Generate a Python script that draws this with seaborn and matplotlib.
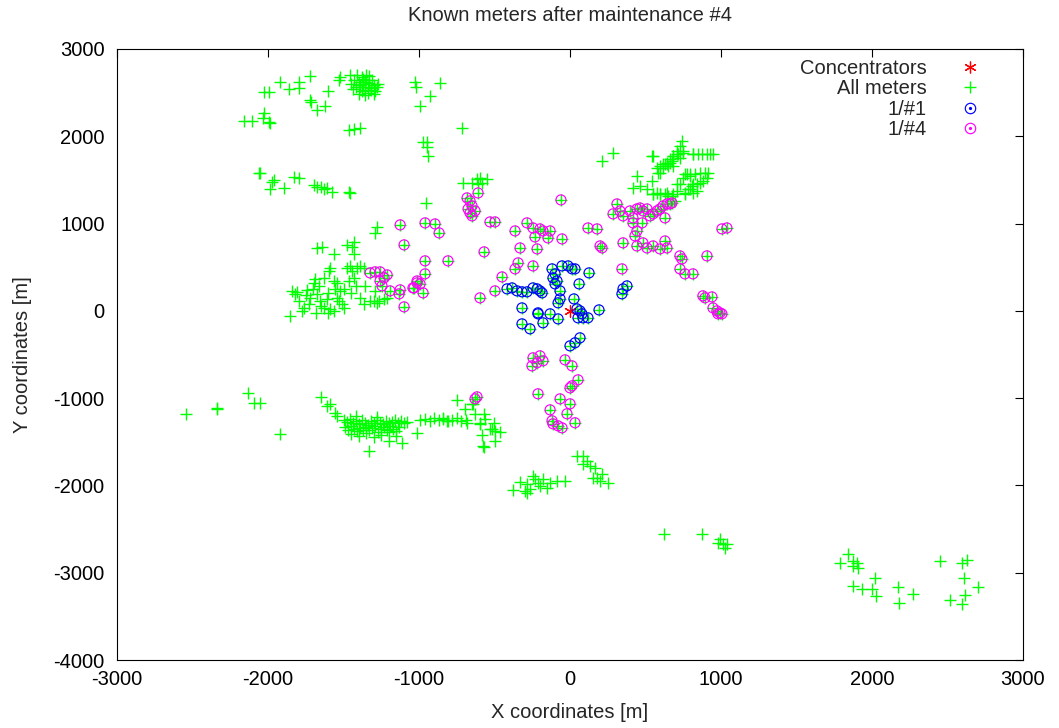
import matplotlib
matplotlib.use("Agg")
import matplotlib.pyplot as plt
from matplotlib.lines import Line2D
import seaborn as sns

# --- concentrator ---
conc_x = [0]
conc_y = [0]

# --- meters not reached (green only) ---
other_x = [
    # top left scatter
    -1920, -1794, -1721, -1860, -1794, -2026, -1993, -1602, -1721, -1715, -1675, -1622,
    -2158, -2105, -2026, -2032, -1993, -1986, -1523, -1530, -1456, -1463, -1430, -1390,
    # top dense cluster
    -1450, -1430, -1410, -1400, -1390, -1380, -1370, -1360, -1350, -1340, -1330, -1320,
    -1300, -1290, -1280, -1270, -1420, -1400, -1380, -1360, -1340, -1320, -1300, -1440,
    -1370, -1350, -1330, -1310, -1390, -1360,
    # top middle
    -1026, -1020, -861, -927, -993, -715, -973, -947, -947, -940,
    # row near 1500
    -2059, -2052, -1960, -1973, -1986, -1893, -1827, -1794, -1695, -1675, -1648, -1628,
    -1609, -1576, -1463, -1456,
    # above left cluster
    -1278, -1291, -1675, -1642, -1562, -1476, -1430, -1443, -1430,
    # left cluster
    -1840, -1807, -1820, -1853, -1794, -1774, -1761, -1728, -1721, -1741, -1695, -1688,
    -1662, -1675, -1655, -1628, -1609, -1589, -1562, -1628, -1595, -1589, -1562, -1543,
    -1523, -1530, -1496, -1509, -1476, -1456, -1443, -1430, -1410, -1390, -1364, -1463,
    -1556, -1357, -1390, -1364, -1324, -1298, -1278, -1265, -1231, -1291, -1211,
    -1700, -1650, -1600, -1540, -1500, -1450, -1420, -1680, -1750, -1600,
    # centre top
    -953, -708, -649, -616, -596, -583, -550, -609, 212, 285,
    550, 682, 708, 748, 814,
    443, 543, 596, 642, 616, 662, 682, 728,
    417, 463, 510, 550, 596, 642, 682, 708, 748, 774, 794, 814, 794, 841, 761,
    741, 728, 708, 682, 662, 642, 616, 596, 576, 543, 748, 715, 675, 649, 583, 629,
    814, 847, 874, 907, 927, 947,
    761, 794, 827, 861, 894, 914, 907, 880, 861, 841, 808, 781, 761, 728, 708, 814,
    550, 576, 596, 629, 649, 675, 695,
    # bottom left
    -2542, -2337, -2337, -2132, -2092, -2052, -1920, -1648, -1609, -1589, -1556, -1543,
    # bottom dense cluster
    -1500, -1480, -1460, -1440, -1420, -1400, -1380, -1360, -1340, -1320, -1300, -1280,
    -1260, -1240, -1220, -1200, -1180, -1160, -1140, -1120, -1100, -1080, -1490, -1470,
    -1450, -1430, -1410, -1390, -1370, -1350, -1330, -1310, -1290, -1270, -1250, -1230,
    -1210, -1190, -1170, -1150, -1130, -1450, -1400, -1350, -1300, -1250, -1200, -1150,
    -1420, -1280, -1331, -1198, -1112, -1013,
    # band towards the centre
    -993, -960, -930, -900, -870, -840, -810, -780, -750, -720, -690, -748,
    -695, -649, -629, -596, -570, -563, -583, -570, -503, -516, -497, -464,
    -497, -530, -576, -642, -596, -682, -814, -841,
    # bottom centre
    46, 86, 113, 86, 132, 166, 179, 152, 212, 199, 252,
    -377, -331, -285, -298, -285, -265, -245, -232, -212, -199, -179, -152, -132, -86, -33,
    # bottom right
    622, 874, 993, 980, 1013, 1039, 1026,
    1840, 1787, 1873, 1900, 1873, 1907, 2019, 1873, 1933, 1999, 2026, 2171, 2178, 2271,
    2449, 2595, 2628, 2608, 2701, 2615, 2595, 2516,
]
other_y = [
    2622, 2622, 2690, 2542, 2553, 2507, 2507, 2519, 2416, 2393, 2301, 2347,
    2175, 2175, 2267, 2210, 2164, 2153, 2679, 2645, 2702, 2072, 2084, 2095,
    2600, 2650, 2700, 2620, 2560, 2680, 2600, 2530, 2640, 2570, 2610, 2550,
    2590, 2520, 2560, 2600, 2560, 2480, 2520, 2470, 2500, 2530, 2480, 2540,
    2660, 2700, 2690, 2640, 2590, 2620,
    2622, 2565, 2610, 2462, 2347, 2095, 1935, 1935, 1878, 1775,
    1580, 1580, 1500, 1477, 1397, 1408, 1534, 1523, 1443, 1420, 1420, 1397,
    1408, 1363, 1363, 1351,
    962, 893, 721, 733, 653, 756, 790, 733, 653,
    229, 218, 195, -57, 115, 0, 34, 80, 149, 241, 321, 366,
    286, 195, 115, 34, 137, 23, 0, 378, 458, 492, 343, 321,
    229, 115, 34, 80, 492, 515, 458, 378, 492, 515, 492, 343,
    252, 286, 149, 80, 115, 115, 92, 115, 137, 229, 149,
    250, 60, 200, 150, 250, 200, 280, -20, 180, -30,
    1237, 1466, 1466, 1511, 1523, 1466, 1511, 1454, 1718, 1809,
    1775, 1775, 1798, 1809, 1798,
    1546, 1489, 1580, 1683, 1637, 1695, 1660, 1752,
    1408, 1431, 1397, 1340, 1340, 1351, 1340, 1454, 1523, 1569, 1546, 1454, 1397, 1374, 1340,
    1946, 1889, 1832, 1775, 1740, 1695, 1683, 1660, 1637, 1775, 1832, 1798, 1718, 1660, 1580, 1683,
    1798, 1798, 1798, 1798, 1798, 1798,
    1569, 1569, 1569, 1580, 1580, 1580, 1523, 1489, 1466, 1454, 1431, 1397, 1351, 1454, 1374, 1351,
    1340, 1351, 1340, 1340, 1317, 1317, 1260,
    -1179, -1122, -1110, -939, -1053, -1053, -1408, -985, -1088, -1065, -1168, -1202,
    -1250, -1270, -1240, -1290, -1260, -1300, -1250, -1280, -1310, -1260, -1290, -1250,
    -1280, -1300, -1260, -1290, -1270, -1250, -1280, -1260, -1280, -1270, -1330, -1360,
    -1320, -1350, -1380, -1340, -1370, -1330, -1360, -1340, -1320, -1390, -1350, -1330,
    -1370, -1320, -1350, -1380, -1330, -1410, -1430, -1400, -1440, -1420, -1390, -1430,
    -1210, -1220, -1603, -1488, -1511, -1397,
    -1250, -1240, -1260, -1230, -1250, -1240, -1260, -1250, -1230, -1260, -1250, -1019,
    -1122, -1065, -1179, -1282, -1179, -1237, -1420, -1557, -1282, -1351, -1374, -1385,
    -1488, -1351, -1546, -1065, -1294, -1282, -1259, -1225,
    -1660, -1660, -1718, -1752, -1775, -1798, -1912, -1912, -1866, -1947, -1969,
    -2050, -1958, -1981, -2061, -2084, -2038, -1889, -1924, -1969, -2004, -1924, -2027,
    -1969, -1947, -1947,
    -2553, -2553, -2611, -2656, -2668, -2668, -2714,
    -2782, -2885, -2862, -2885, -2920, -2943, -3057, -3149, -3183, -3183, -3263, -3160,
    -3343, -3240, -2862, -2885, -2851, -3057, -3160, -3252, -3355, -3309,
]

# --- meters read at round 1 (blue) ---
m1_x = [
    -417, -384, -351, -318, -285, -245, -218, -199, -185, -119, -99, -113,
    -99, -86, -66, -66, -79, -53, -13, 13, 33, 126, 60, 26,
    192, 46, 66, 79, 53, 86, 119, -318, -318, -265, -212, -179,
    -132, -79, 344, 351, 377, 0, 33, 66, -212,
]
m1_y = [
    252, 263, 229, 218, 218, 263, 252, 229, 206, 481, 424, 378,
    309, 343, 229, 137, 92, 515, 515, 481, 481, 435, 309, 137,
    11, 23, 0, -34, -80, -80, -80, 34, -149, -206, -34, -137,
    -34, -92, 195, 252, 286, -401, -366, -309, -23,
]

# --- meters read at round 4 (magenta) ---
m4_x = [
    -1324, -1291, -1258, -1231, -1211, -1258, -1245, -1192, -1125, -1132, -1099, -1033,
    -1013, -1125, -1099,
    -960, -894, -867, -960, -808, -960, -1013, -1040, -993, -973,
    -682, -662, -649, -675, -662, -649, -629, -609,
    -530, -497, -364, -285, -245, -199, -179, -132, -232, -146, -53, -60,
    -331, -218, -569, -596, -497, -450, -364, -344, -245,
    311, 285, 331, 351, 397, 417, 443, 463, 483, 510, 530, 550,
    576, 596, 616, 642, 662, 629, 675,
    417, 477, 443, 430,
    443, 483, 510, 550, 596, 642, 629, 351, 199, 212, 119, 179, 344,
    728, 741, 728, 761, 814, 1006, 1039, 907, 880, 940, 894,
    947, 973, 993, 980, 1006,
    -245, -218, -199, -252, -179, -33, 13, 53, 13, 0, -212,
    -616, -629, -66, 0, -132, -119, -113, -79, -53, -20, 33,
]
m4_y = [
    435, 447, 447, 378, 412, 343, 286, 229, 241, 195, 46, 263,
    321, 985, 756,
    1008, 996, 893, 573, 573, 424, 343, 263, 309, 206,
    1294, 1260, 1202, 1168, 1122, 1088, 1145, 1351,
    1019, 1019, 916, 1008, 950, 939, 916, 916, 847, 836, 824, 1271,
    721, 710, 676, 149, 229, 389, 481, 550, 515,
    1225, 1111, 1145, 1088, 1145, 1065, 1168, 1179, 1145, 1168, 1088, 1111,
    1145, 1168, 1202, 1225, 1225, 1065, 1237,
    1008, 1008, 916, 859,
    744, 779, 721, 744, 710, 721, 801, 779, 744, 721, 950, 939, 481,
    630, 595, 481, 424, 424, 939, 950, 630, 172, 160, 149,
    34, 0, -23, -34, -34,
    -538, -595, -515, -630, -572, -561, -630, -790, -859, -882, -950,
    -985, -1008, -1008, -1065, -1134, -1259, -1294, -1317, -1340, -1179, -1282,
]

all_x = other_x + m1_x + m4_x
all_y = other_y + m1_y + m4_y

GREEN = "#00ff00"
BLUE = "#0000ff"
MAGENTA = "#ff00ff"
RED = "#ff0000"
ASTERISK = (6, 2, 0)

sns.set_style("white")
plt.rcParams["font.family"] = ["Liberation Sans", "DejaVu Sans"]
plt.rcParams["axes.unicode_minus"] = False
FS = 14.5

fig = plt.figure(figsize=(10.59, 7.28), dpi=100)
ax = fig.add_axes([0.1105, 0.0934, 0.8555, 0.8393])

sns.scatterplot(x=conc_x, y=conc_y, marker=ASTERISK, s=70, color=RED, linewidth=0.9, ax=ax, zorder=3)
sns.scatterplot(x=all_x, y=all_y, marker="+", s=64, color=GREEN, linewidth=1.0, ax=ax, zorder=2)
sns.scatterplot(x=m1_x, y=m1_y, marker="o", s=52, facecolor="none", edgecolor=BLUE,
                linewidth=0.85, ax=ax, zorder=4)
sns.scatterplot(x=m4_x, y=m4_y, marker="o", s=52, facecolor="none", edgecolor=MAGENTA,
                linewidth=0.85, ax=ax, zorder=5)

ax.set_xlim(-3000, 3000)
ax.set_ylim(-4000, 3000)
ax.set_xticks(range(-3000, 3001, 1000))
ax.set_yticks(range(-4000, 3001, 1000))
ax.tick_params(direction="in", top=True, right=True, length=6, width=0.8,
               labelsize=FS, colors="black")
ax.tick_params(axis="y", pad=9)
ax.tick_params(axis="x", pad=7)
for sp in ax.spines.values():
    sp.set_visible(True)
    sp.set_color("black")
    sp.set_linewidth(0.8)

ax.set_title("Known meters after maintenance #4", fontsize=FS, pad=20)
ax.set_xlabel("X coordinates [m]", fontsize=FS, labelpad=10)
ax.set_ylabel("Y coordinates [m]", fontsize=FS, labelpad=15)


def dotted_circle(color):
    ring = Line2D([], [], linestyle="none", marker="o", markersize=7.5,
                  markerfacecolor="none", markeredgecolor=color, markeredgewidth=0.85)
    dot = Line2D([], [], linestyle="none", marker="o", markersize=1.3,
                 markerfacecolor=color, markeredgecolor=color)
    return (ring, dot)


handles = [
    Line2D([], [], linestyle="none", marker=ASTERISK, markersize=8.5, color=RED, markeredgewidth=0.9),
    Line2D([], [], linestyle="none", marker="+", markersize=8, color=GREEN, markeredgewidth=1.0),
    dotted_circle(BLUE),
    dotted_circle(MAGENTA),
]
labels = ["Concentrators", "All meters", "1/#1", "1/#4"]
ax.legend(handles, labels, loc="upper right", bbox_to_anchor=(0.958, 0.984),
          markerfirst=False, frameon=False, fontsize=FS, handlelength=1.5,
          handletextpad=1.4, labelspacing=0.07, borderpad=0, borderaxespad=0)

fig.savefig("out.png", dpi=100)
